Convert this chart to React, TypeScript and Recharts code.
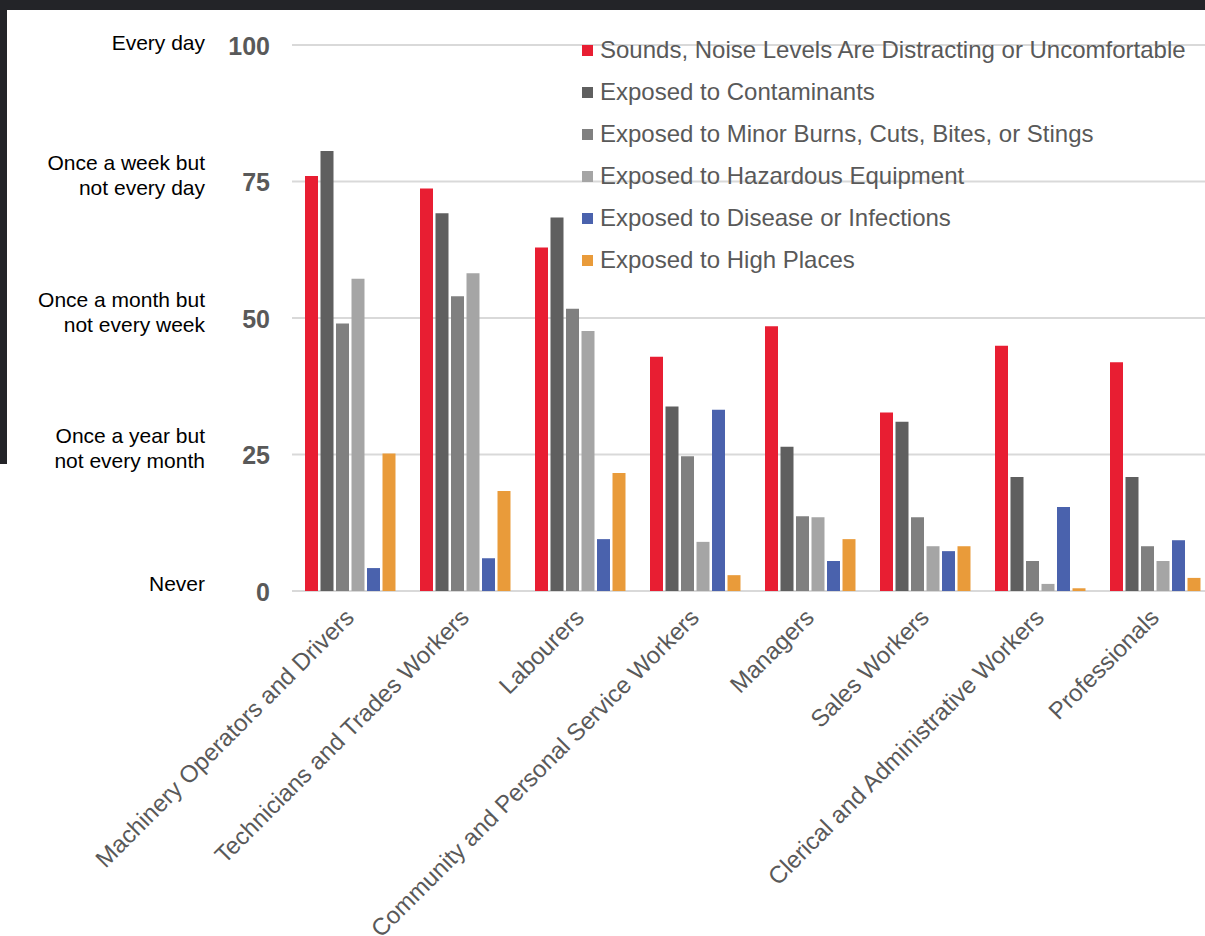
import React from 'react';
import { Bar, BarChart, CartesianGrid, Legend, XAxis, YAxis } from 'recharts';

const categories = [
  'Machinery Operators and Drivers',
  'Technicians and Trades Workers',
  'Labourers',
  'Community and Personal Service Workers',
  'Managers',
  'Sales Workers',
  'Clerical and Administrative Workers',
  'Professionals',
];

const noise = [76.0, 73.7, 62.9, 42.9, 48.5, 32.7, 44.9, 41.9];
const contaminants = [80.6, 69.2, 68.4, 33.8, 26.4, 31.0, 20.9, 20.9];
const burns = [49.0, 54.0, 51.7, 24.7, 13.7, 13.5, 5.5, 8.2];
const hazardous = [57.2, 58.2, 47.6, 9.0, 13.5, 8.2, 1.3, 5.5];
const disease = [4.2, 6.0, 9.5, 33.2, 5.5, 7.3, 15.4, 9.3];
const highPlaces = [25.2, 18.3, 21.6, 2.9, 9.5, 8.2, 0.5, 2.4];

const yTicks = [0, 25, 50, 75, 100];
const yTickLabels = [
  'Never',
  'Once a year but\nnot every month',
  'Once a month but\nnot every week',
  'Once a week but\nnot every day',
  'Every day',
];

const series = [
  { key: 'noise', name: 'Sounds, Noise Levels Are Distracting or Uncomfortable', color: '#E81E32', values: noise },
  { key: 'contaminants', name: 'Exposed to Contaminants', color: '#5F5F5F', values: contaminants },
  { key: 'burns', name: 'Exposed to Minor Burns, Cuts, Bites, or Stings', color: '#808080', values: burns },
  { key: 'hazardous', name: 'Exposed to Hazardous Equipment', color: '#A5A5A5', values: hazardous },
  { key: 'disease', name: 'Exposed to Disease or Infections', color: '#4A62AD', values: disease },
  { key: 'highPlaces', name: 'Exposed to High Places', color: '#E99B3A', values: highPlaces },
];

const data = categories.map((name, i) => {
  const row: Record<string, string | number> = { name };
  series.forEach((s) => {
    row[s.key] = s.values[i];
  });
  return row;
});

const FONT = '"Liberation Sans", Arial, sans-serif';

function YTick({ y, payload }: any) {
  const idx = yTicks.indexOf(payload.value);
  const lines = (yTickLabels[idx] ?? '').split('\n');
  const single = lines.length === 1;
  return (
    <g>
      <text x={270} y={y + 9.5} textAnchor="end" fontFamily={FONT} fontSize={25} fontWeight="bold" fill="#595959">
        {payload.value}
      </text>
      {single ? (
        <text x={205} y={y + (payload.value === 0 ? -0.5 : 5)} textAnchor="end" fontFamily={FONT} fontSize={21} fill="#000">
          {lines[0]}
        </text>
      ) : (
        <text textAnchor="end" fontFamily={FONT} fontSize={21} fill="#000">
          <tspan x={205} y={y - 11.5}>{lines[0]}</tspan>
          <tspan x={205} y={y + 13.5}>{lines[1]}</tspan>
        </text>
      )}
    </g>
  );
}

function XTick({ x, payload }: any) {
  const ax = x + 6;
  const ay = 619;
  return (
    <text
      x={ax}
      y={ay}
      textAnchor="end"
      transform={`rotate(-45, ${ax}, ${ay})`}
      fontFamily={FONT}
      fontSize={24}
      fill="#595959"
    >
      {payload.value}
    </text>
  );
}

function LegendBox() {
  return (
    <div style={{ fontFamily: FONT, fontSize: 24, color: '#595959' }}>
      {series.map((s) => (
        <div key={s.key} style={{ display: 'flex', alignItems: 'center', height: 42, whiteSpace: 'nowrap' }}>
          <span style={{ display: 'inline-block', width: 11, height: 11, background: s.color, marginRight: 7 }} />
          <span>{s.name}</span>
        </div>
      ))}
    </div>
  );
}

export default function App() {
  return (
    <div
      style={{
        position: 'absolute',
        left: 0,
        top: 0,
        width: 1205,
        height: 936,
        overflow: 'hidden',
        background: '#fff',
      }}
    >
      <BarChart
        width={1212}
        height={936}
        data={data}
        margin={{ top: 45, right: 0, bottom: 0, left: 0 }}
        barCategoryGap={13}
        barGap={2.5}
      >
        <CartesianGrid vertical={false} stroke="#D9D9D9" strokeWidth={2} />
        <YAxis
          width={292}
          domain={[0, 100]}
          ticks={yTicks}
          interval={0}
          axisLine={false}
          tickLine={false}
          tick={<YTick />}
        />
        <XAxis dataKey="name" height={345} interval={0} axisLine={false} tickLine={false} tick={<XTick />} />
        <Legend
          layout="vertical"
          align="center"
          verticalAlign="middle"
          content={<LegendBox />}
          wrapperStyle={{ left: 582, top: 29, width: 620 }}
        />
        {series.map((s) => (
          <Bar key={s.key} dataKey={s.key} name={s.name} fill={s.color} isAnimationActive={false} />
        ))}
      </BarChart>
      <div style={{ position: 'absolute', left: 0, top: 0, width: 1205, height: 10, background: '#232428' }} />
      <div style={{ position: 'absolute', left: 0, top: 0, width: 7, height: 464, background: '#232428' }} />
    </div>
  );
}
